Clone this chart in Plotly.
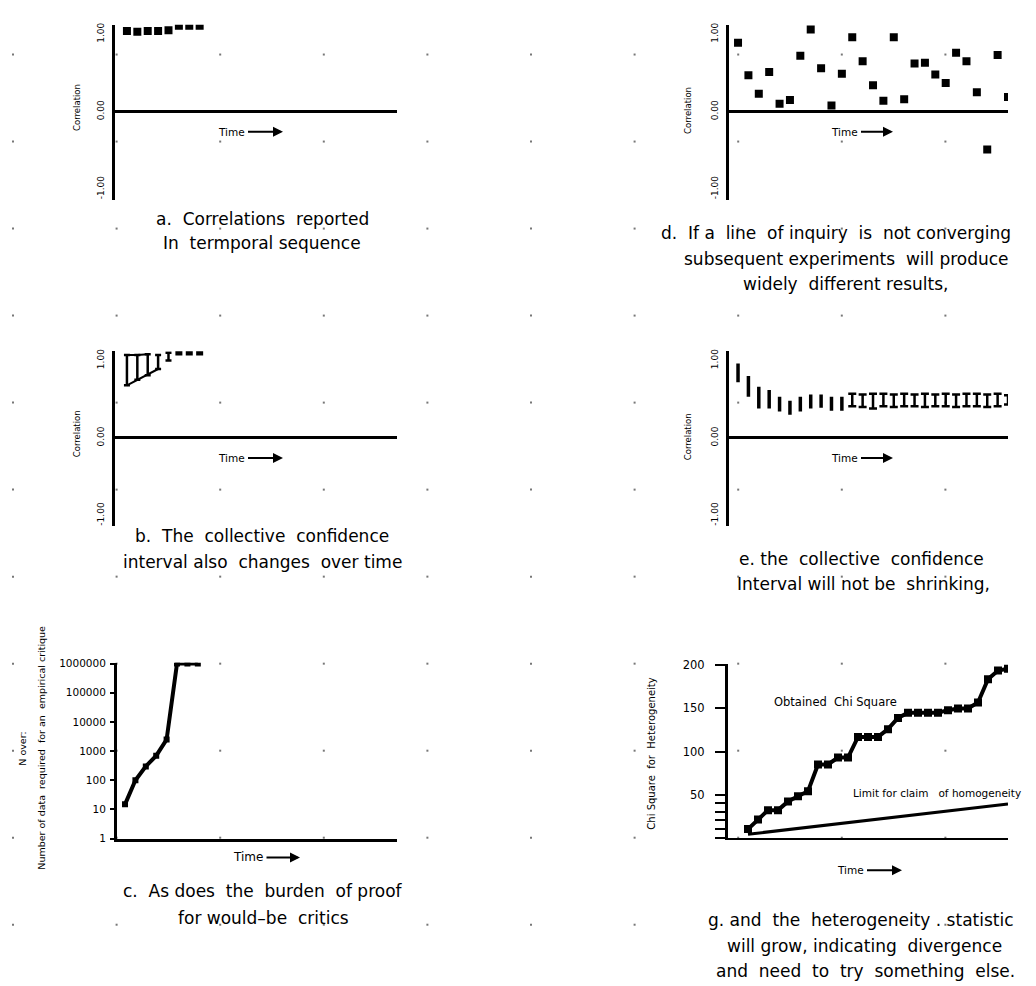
import plotly.graph_objects as go

W, H = 1036, 986
OFF = 8  # page body margin compensation
FONT = "DejaVu Sans"

# ---------------- data ----------------
# a. correlations reported in temporal sequence
a_time = [1, 2, 3, 4, 5, 6, 7, 8]
a_corr = [1.04, 1.03, 1.04, 1.04, 1.05, 1.11, 1.11, 1.11]

# b. collective confidence interval
b_time = [1, 2, 3, 4, 5, 6, 7, 8]
b_mid = [1.03, 1.03, 1.04, 1.04, 1.06, 1.11, 1.11, 1.11]
b_low = [0.68, 0.75, 0.81, 0.89, 1.00, 1.11, 1.11, 1.11]
b_high = [1.07, 1.07, 1.08, 1.07, 1.10, 1.11, 1.11, 1.11]

# c. N required for an empirical critique
c_time = [1, 2, 3, 4, 5, 6, 7, 8]
c_n = [15, 100, 300, 700, 2500, 1000000, 1000000, 1000000]
c_tickvals = [1, 10, 100, 1000, 10000, 100000, 1000000]
c_ticktext = ["1", "10", "100", "1000", "10000", "100000", "1000000"]

# d. non-converging line of inquiry
d_time = list(range(1, 28))
d_corr = [0.89, 0.47, 0.23, 0.51, 0.10, 0.15, 0.72, 1.06, 0.56, 0.08,
          0.49, 0.96, 0.65, 0.34, 0.14, 0.96, 0.16, 0.62, 0.63, 0.48,
          0.37, 0.76, 0.65, 0.25, -0.49, 0.73, 0.19]

# e. collective confidence interval not shrinking
e_time = list(range(1, 28))
e_high = [0.96, 0.80, 0.66, 0.62, 0.53, 0.48, 0.53, 0.56, 0.56, 0.53, 0.53,
          0.57, 0.56, 0.57, 0.57, 0.56, 0.57, 0.56, 0.57, 0.56, 0.57, 0.56,
          0.57, 0.57, 0.56, 0.57, 0.55]
e_low = [0.72, 0.53, 0.38, 0.38, 0.34, 0.30, 0.34, 0.38, 0.39, 0.35, 0.35,
         0.41, 0.40, 0.38, 0.41, 0.40, 0.41, 0.41, 0.40, 0.41, 0.41, 0.40,
         0.41, 0.41, 0.40, 0.41, 0.43]
e_split = 11  # first bars drawn plain, later ones with caps

# g. heterogeneity statistic
g_time = list(range(1, 28))
g_chi = [10, 21, 32, 32, 42, 48, 54, 85, 85, 93, 93, 117, 117, 117, 126,
         139, 145, 145, 145, 145, 148, 150, 150, 157, 184, 194, 196]
g_limit_time = [1, 27]
g_limit = [4, 39]
g_tickvals = [0, 10, 20, 30, 40, 50, 100, 150, 200]
g_ticktext = ["", "", "", "", "", "50", "100", "150", "200"]

corr_tickvals = [-1, 0, 1]
corr_ticktext = ["-1.00", "0.00", "1.00"]


def px(x):
    return (x - OFF) / W


def py(y):
    return 1 - (y - OFF) / H


fig = go.Figure()

# ---- background dot grid (full-page axis) ----
gx = [13 + 103.6 * k for k in range(10)]
gy = [50 + 88 * j for j in range(11)]
fig.add_trace(go.Scatter(
    x=[x for x in gx for _ in gy], y=[y for _ in gx for y in gy],
    mode="markers", marker=dict(size=2, color="#777777", symbol="square"),
    xaxis="x", yaxis="y", hoverinfo="skip"))

# ---- a ----
fig.add_trace(go.Scatter(x=a_time, y=a_corr, mode="markers",
                         marker=dict(symbol="square", size=8, color="black"),
                         xaxis="x2", yaxis="y2"))

# ---- b ----
fig.add_trace(go.Scatter(x=b_time[:4], y=b_low[:4], mode="lines",
                         line=dict(color="black", width=2),
                         xaxis="x3", yaxis="y3"))
fig.add_trace(go.Scatter(x=b_time[:3], y=b_high[:3], mode="lines",
                         line=dict(color="black", width=2),
                         xaxis="x3", yaxis="y3"))
fig.add_trace(go.Scatter(
    x=b_time[:5], y=b_mid[:5], mode="markers",
    marker=dict(size=1, color="rgba(0,0,0,0)"),
    error_y=dict(type="data", symmetric=False,
                 array=[h - m for h, m in zip(b_high[:5], b_mid[:5])],
                 arrayminus=[m - l for m, l in zip(b_mid[:5], b_low[:5])],
                 color="black", thickness=2.5, width=3),
    xaxis="x3", yaxis="y3"))
fig.add_trace(go.Scatter(x=b_time[5:], y=b_mid[5:], mode="markers",
                         marker=dict(symbol="square", size=7, color="black"),
                         xaxis="x3", yaxis="y3"))

# ---- c ----
fig.add_trace(go.Scatter(x=c_time, y=c_n, mode="lines+markers",
                         line=dict(color="black", width=4),
                         marker=dict(symbol="square", size=6, color="black"),
                         xaxis="x4", yaxis="y4"))

# ---- d ----
fig.add_trace(go.Scatter(x=d_time, y=d_corr, mode="markers",
                         marker=dict(symbol="square", size=8, color="black"),
                         xaxis="x5", yaxis="y5"))

# ---- e ----
e_mid = [(h + l) / 2 for h, l in zip(e_high, e_low)]
e_err = [(h - l) / 2 for h, l in zip(e_high, e_low)]
fig.add_trace(go.Scatter(
    x=e_time[:e_split], y=e_mid[:e_split], mode="markers",
    marker=dict(size=1, color="rgba(0,0,0,0)"),
    error_y=dict(type="data", array=e_err[:e_split], color="black",
                 thickness=3.5, width=0),
    xaxis="x6", yaxis="y6"))
fig.add_trace(go.Scatter(
    x=e_time[e_split:], y=e_mid[e_split:], mode="markers",
    marker=dict(size=1, color="rgba(0,0,0,0)"),
    error_y=dict(type="data", array=e_err[e_split:], color="black",
                 thickness=2.5, width=4),
    xaxis="x6", yaxis="y6"))

# ---- g ----
fig.add_trace(go.Scatter(x=g_time, y=g_chi, mode="lines+markers",
                         line=dict(color="black", width=4),
                         marker=dict(symbol="square", size=8, color="black"),
                         xaxis="x7", yaxis="y7"))
fig.add_trace(go.Scatter(x=g_limit_time, y=g_limit, mode="lines",
                         line=dict(color="black", width=3),
                         xaxis="x7", yaxis="y7"))

# ---------------- axes ----------------
hidden_x = dict(showline=False, showticklabels=False, showgrid=False,
                zeroline=False, ticks="")


def corr_y(y0, y1):
    return dict(domain=[py(y1), py(y0)], range=[-1.14, 1.12],
                showline=True, linewidth=3, linecolor="black",
                showgrid=False, zeroline=True, zerolinewidth=3,
                zerolinecolor="black", tickmode="array",
                tickvals=corr_tickvals, ticktext=corr_ticktext,
                tickangle=-90, ticks="", ticklabelstandoff=4,
                tickfont=dict(family=FONT, size=9, color="black"))


layout = dict(
    width=W, height=H, showlegend=False,
    margin=dict(l=0, r=0, t=0, b=0),
    paper_bgcolor="white", plot_bgcolor="rgba(0,0,0,0)",
    xaxis=dict(domain=[0, 1], range=[OFF, W + OFF], visible=False),
    yaxis=dict(domain=[0, 1], range=[H + OFF, OFF], visible=False),
    # a
    xaxis2=dict(domain=[px(115), px(397)], range=[-0.15, 27.0],
                anchor="y2", **hidden_x),
    yaxis2=dict(anchor="x2", **corr_y(20, 197)),
    # b
    xaxis3=dict(domain=[px(115), px(397)], range=[-0.15, 27.0],
                anchor="y3", **hidden_x),
    yaxis3=dict(anchor="x3", **corr_y(350, 527)),
    # c
    xaxis4=dict(domain=[px(117), px(397)], range=[0.23, 27.15],
                anchor="y4", showline=True, linewidth=3, linecolor="black",
                showticklabels=False, showgrid=False, zeroline=False),
    yaxis4=dict(domain=[py(843), py(665)], type="log", range=[0, 6.03],
                anchor="x4", showline=True, linewidth=3, linecolor="black",
                showgrid=False, zeroline=False, tickmode="array",
                tickvals=c_tickvals, ticktext=c_ticktext,
                ticks="outside", ticklen=4, tickwidth=2, tickcolor="black",
                ticklabelstandoff=2,
                tickfont=dict(family=FONT, size=10.5, color="black")),
    # d
    xaxis5=dict(domain=[px(729), px(1008)], range=[0.13, 27.0],
                anchor="y5", **hidden_x),
    yaxis5=dict(anchor="x5", **corr_y(20, 197)),
    # e
    xaxis6=dict(domain=[px(729), px(1008)], range=[0.13, 27.0],
                anchor="y6", **hidden_x),
    yaxis6=dict(anchor="x6", **corr_y(350, 527)),
    # g
    xaxis7=dict(domain=[px(728), px(1008)], range=[-1, 27],
                anchor="y7", showline=True, linewidth=2, linecolor="black",
                showticklabels=False, showgrid=False, zeroline=False),
    yaxis7=dict(domain=[py(842), py(666)], range=[0, 202],
                anchor="x7", showline=True, linewidth=3, linecolor="black",
                showgrid=False, zeroline=False, tickmode="array",
                tickvals=g_tickvals, ticktext=g_ticktext,
                ticks="outside", ticklen=10, tickwidth=2, tickcolor="black",
                ticklabelstandoff=8,
                tickfont=dict(family=FONT, size=11.5, color="black")),
)

anns = []


def text(t, x, y, size, angle=0, anchor="center"):
    anns.append(dict(text=t, x=px(x), y=py(y), xref="paper", yref="paper",
                     showarrow=False, textangle=angle,
                     xanchor=anchor, yanchor="middle",
                     font=dict(family=FONT, size=size, color="black")))


def time_arrow(cx, tip, y, size=10.5):
    anns.append(dict(text="Time", x=px(tip), y=py(y), xref="paper",
                     yref="paper", ax=cx - tip, ay=0, showarrow=True,
                     arrowhead=2, arrowsize=1, arrowwidth=2,
                     arrowcolor="black", standoff=0, startstandoff=2,
                     font=dict(family=FONT, size=size, color="black")))


# y titles
text("Correlation", 77, 104, 8.5, -90)
text("Correlation", 77, 434, 8.5, -90)
text("Correlation", 688, 107, 8.5, -90)
text("Correlation", 688, 437, 8.5, -90)
text("N over:", 23, 752, 9.5, -90)
text("Number of data  required  for an  empirical critique", 42, 751, 9.5, -90)
text("Chi Square  for  Heterogeneity", 652, 757, 10, -90)

# time arrows
time_arrow(231, 283, 128)
time_arrow(231, 283, 458)
time_arrow(844, 893, 128)
time_arrow(844, 893, 458)
time_arrow(248, 300, 862, 12)
time_arrow(850, 902, 875)

# panel g labels
text("Obtained  Chi Square", 835, 705, 11.5)
text("Limit for claim   of homogeneity", 851, 797, 10.5, anchor="left")

# captions
CS = 17
text("a.  Correlations  reported", 262, 216, CS)
text("In  termporal sequence", 262, 241, CS)
text("b.  The  collective  confidence", 262, 537, CS)
text("interval also  changes  over time", 262, 563, CS)
text("c.  As does  the  burden  of proof", 263, 896, CS)
text("for would\u2013be  critics", 263, 923, CS)
text("d.  If a  line  of inquiry  is  not converging", 836, 230, CS)
text("subsequent experiments  will produce", 846, 257, CS)
text("widely  different results,", 845, 282, CS)
text("e. the  collective  confidence", 861, 560, CS)
text("Interval will not be  shrinking,", 863, 585, CS)
text("g. and  the  heterogeneity . statistic", 861, 925, CS)
text("will grow, indicating  divergence", 864, 952, CS)
text("and  need  to  try  something  else.", 865, 977, CS)

layout["annotations"] = anns
fig.update_layout(**layout)
fig.write_html("out.html")
